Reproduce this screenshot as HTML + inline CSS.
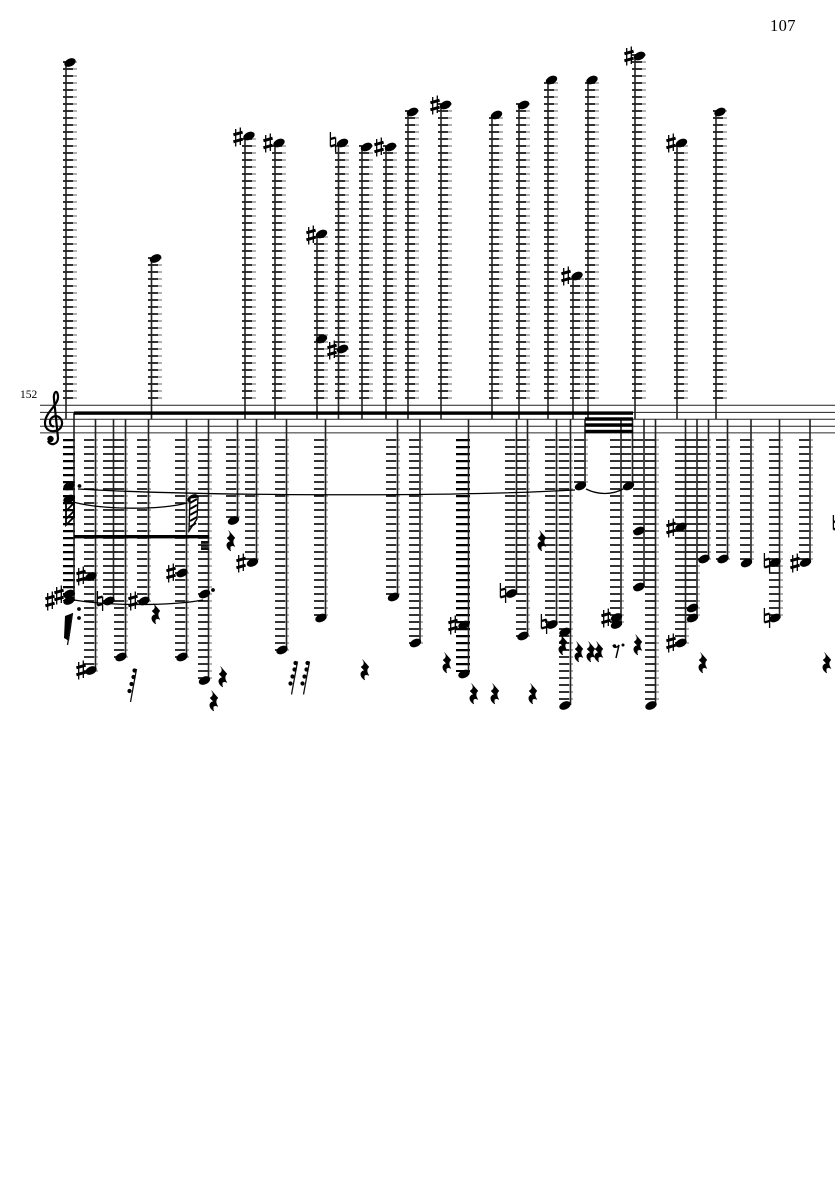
<!DOCTYPE html>
<html><head><meta charset="utf-8"><title>Score page 107</title>
<style>
html,body{margin:0;padding:0;background:#fff}
svg{display:block}
text{font-family:"Liberation Serif",serif;fill:#000}
</style></head><body>
<svg width="835" height="1181" viewBox="0 0 835 1181" xmlns="http://www.w3.org/2000/svg">
<defs>
<g id="L" fill="none" stroke-dasharray="1.6 5.4">
<path d="M70 61.2V399"/><path d="M155 257.2V399"/><path d="M249 138.2V399"/><path d="M279 145.2V399"/>
<path d="M321 236.2V399"/><path d="M342 145.2V399"/><path d="M366 145.2V399"/><path d="M390 145.2V399"/>
<path d="M412 110.2V399"/><path d="M445 103.2V399"/><path d="M496 117.2V399"/><path d="M523 103.2V399"/>
<path d="M551 82.2V399"/><path d="M577 278.2V399"/><path d="M592 82.2V399"/><path d="M639 54.2V399"/>
<path d="M681 145.2V399"/><path d="M720 110.2V399"/>
<path d="M91 439.2V672"/><path d="M110 439.2V602"/><path d="M121 439.2V658"/><path d="M144 439.2V602"/>
<path d="M182 439.2V658"/><path d="M205 439.2V679"/><path d="M233 439.2V518"/><path d="M252 439.2V560"/>
<path d="M282 439.2V651"/><path d="M321 439.2V616"/><path d="M393 439.2V595"/><path d="M416 439.2V644"/>
<path d="M512 439.2V595"/><path d="M523 439.2V637"/><path d="M552 439.2V623"/><path d="M566 439.2V705"/>
<path d="M581 439.2V483"/><path d="M617 439.2V623"/><path d="M628 439.2V483"/><path d="M640 439.2V588"/>
<path d="M652 439.2V705"/><path d="M682 439.2V644"/><path d="M693 439.2V616"/><path d="M704 439.2V560"/>
<path d="M723 439.2V560"/><path d="M747 439.2V560"/><path d="M776 439.2V616"/><path d="M806 439.2V560"/>
</g>
<ellipse id="h" rx="6" ry="3.9" transform="rotate(-25)"/>
<g id="sh"><path d="M-2.3 -8V9.5M2.3 -9.5V8" stroke="#000" stroke-width="1.3" fill="none"/><path d="M-4.6 -2.2L4.6 -4.8M-4.6 4.8L4.6 2.2" stroke="#000" stroke-width="2.9" fill="none"/></g>
<g id="na"><path d="M-2.6 -10V4.5M2.6 -4.5V10" stroke="#000" stroke-width="1.3" fill="none"/><path d="M-2.6 -3L2.6 -4.4M-2.6 4.4L2.6 3" stroke="#000" stroke-width="2.4" fill="none"/></g>
<path id="r" d="M-2.5 -10.500L4 -3C1.500 -1 1.500 2 4 5.500C1 4 -2 4.600 -0.300 10C-5.500 7 -5.500 1 -0.500 0.500L-4 -3C-1 -5 0 -7 -2.500 -10.500Z" fill="#000" stroke="#000" stroke-width="0.500"/>
<g id="sl"><path d="M6 0L0 33" stroke="#111" stroke-width="1.300" fill="none"/><circle cx="4" cy="1.500" r="2.100"/><circle cx="3" cy="8" r="2.100"/><circle cx="1" cy="15" r="2.100"/><circle cx="-1" cy="22" r="2.100"/></g>
</defs>

<text x="770" y="31" font-size="16.500" letter-spacing="0.400">107</text>
<text x="20" y="398" font-size="11.500">152</text>

<use href="#L" stroke="#999" stroke-width="14"/>
<use href="#L" x="-2" stroke="#000" stroke-width="10"/>
<path d="M69 439V601" stroke="#000" stroke-width="12" stroke-dasharray="2.200 4.800" fill="none"/>
<path d="M463 439V672" stroke="#000" stroke-width="14" stroke-dasharray="2.200 4.800" fill="none"/>

<g stroke="#222" stroke-width="1" fill="none">
<path d="M40 405.300H835M40 412.400H835M40 419.300H835M40 426.200H835"/>
<path d="M40 432.800H835" stroke="#666" stroke-width="1.400"/>
</g>

<path d="M48 441C50 446 58 445 58 438L54 399C53 393 57 388 58 396C59 405 45 412 45 423C45 430 51 432 55 431C62 430 64 422 60 418C56 414 50 417 50 422C50 425 52 427 54 426" fill="none" stroke="#000" stroke-width="2.200"/>
<circle cx="50.500" cy="439" r="3.200"/>

<g stroke="#222" stroke-width="1.600" fill="none">
<path d="M66 62V419M151.500 258V419M245 136V419M275 143V419M317 234V419M338.500 143V419M362 147V419M386 147V419M408 112V419M441 105V419M492 115V419M519 105V419M548 80V419M573 276V419M588 80V419M635 56V419M677 143V419M716 112V419"/>
<path d="M74 413V600M95.500 419V670M113.500 419V601M125.500 419V657M148.500 419V601M186.500 419V657M208.500 419V680M237.500 419V520M256.500 419V562M286.500 419V650M325.500 419V618M397.500 419V597M420 419V643M468.500 419V674M516.500 419V594M527.500 419V636M556.500 419V625M570.500 419V705M585 419V486M621 419V625M632.500 419V486M644 419V587M655.500 419V706M685.500 419V643M697 419V618M708.500 419V559M727.500 419V559M751 419V563M779.500 419V618M810 419V563"/>
</g>

<rect x="74" y="411.400" width="512" height="3.400"/>
<rect x="74" y="535" width="135" height="3.400"/>
<rect x="585" y="411.400" width="48" height="3.400"/>
<rect x="585" y="417.300" width="48" height="3.400"/>
<rect x="585" y="423.300" width="48" height="3.400"/>
<rect x="585" y="429.800" width="48" height="3.400"/>

<g fill="none" stroke="#000" stroke-width="1.300">
<path d="M78 489C200 496 450 497 575 490"/>
<path d="M75 502.500C105 510 160 510 187 503"/>
<path d="M586 489C598 495 612 495 623 489"/>
<path d="M74 600C110 606 170 606 203 600"/>
</g>

<use href="#h" x="70" y="62.500"/><use href="#h" x="155.500" y="258.500"/><use href="#h" x="249" y="136"/><use href="#h" x="279" y="143"/>
<use href="#h" x="321.500" y="234"/><use href="#h" x="321.500" y="339"/><use href="#h" x="342.500" y="143"/><use href="#h" x="342.500" y="349"/>
<use href="#h" x="366.500" y="147"/><use href="#h" x="390.500" y="147"/><use href="#h" x="412.500" y="112"/><use href="#h" x="445.500" y="105"/>
<use href="#h" x="496.500" y="115"/><use href="#h" x="523.500" y="105"/><use href="#h" x="551.500" y="80"/><use href="#h" x="577" y="276"/>
<use href="#h" x="592" y="80"/><use href="#h" x="639.500" y="56"/><use href="#h" x="681.500" y="143"/><use href="#h" x="720" y="112"/>
<use href="#h" x="69" y="486"/><use href="#h" x="69" y="499"/><use href="#h" x="69" y="594"/><use href="#h" x="69" y="600.500"/>
<use href="#h" x="91" y="576.500"/><use href="#h" x="91" y="670.500"/><use href="#h" x="109" y="601"/><use href="#h" x="121" y="657"/>
<use href="#h" x="144" y="601"/><use href="#h" x="182" y="573"/><use href="#h" x="182" y="657"/><use href="#h" x="193" y="498.500"/>
<use href="#h" x="204.500" y="594"/><use href="#h" x="204.500" y="680.500"/><use href="#h" x="233.500" y="520.500"/><use href="#h" x="252.500" y="562.500"/>
<use href="#h" x="282" y="650"/><use href="#h" x="321" y="618"/><use href="#h" x="393.500" y="597"/><use href="#h" x="415.500" y="643"/>
<use href="#h" x="464" y="625"/><use href="#h" x="464" y="674"/><use href="#h" x="511.500" y="593.500"/><use href="#h" x="523" y="636"/>
<use href="#h" x="552" y="624.500"/><use href="#h" x="565" y="632"/><use href="#h" x="565" y="705.500"/><use href="#h" x="580.500" y="486"/>
<use href="#h" x="616.500" y="617.500"/><use href="#h" x="616.500" y="624.500"/><use href="#h" x="628.500" y="486"/><use href="#h" x="639" y="531"/>
<use href="#h" x="639" y="587"/><use href="#h" x="651" y="705.500"/><use href="#h" x="681" y="527"/><use href="#h" x="681" y="643"/>
<use href="#h" x="692.500" y="608"/><use href="#h" x="692.500" y="618"/><use href="#h" x="704" y="559"/><use href="#h" x="723" y="559"/>
<use href="#h" x="746.500" y="563"/><use href="#h" x="775" y="562.500"/><use href="#h" x="775" y="618"/><use href="#h" x="805.500" y="562.500"/>

<circle cx="79.500" cy="486" r="1.900"/><circle cx="213" cy="590" r="1.900"/><circle cx="79" cy="609" r="1.900"/><circle cx="79" cy="618" r="1.900"/><circle cx="623" cy="645" r="1.500"/>

<path d="M66 497V525L74 517V497ZM66 511L74 503M66 519L74 511" fill="none" stroke="#000" stroke-width="1.800"/>
<path d="M190 498L198 497L197 519L189 531Z" fill="#fff" stroke="#000" stroke-width="1.300"/>
<path d="M190 503L197 499M190 509L197 505M190 515L197 511M190 521L197 517M190 527L196 523" stroke="#000" stroke-width="2" fill="none"/>
<rect x="201" y="541" width="8" height="9" fill="#111"/>
<path d="M201 544H209M201 547H209" stroke="#777" stroke-width="0.800"/>

<path d="M65 616L73 613L71 628L69 641L64 638Z" fill="#000"/>
<path d="M72.500 613L67.500 645" stroke="#111" stroke-width="1.300" fill="none"/>

<use href="#sh" x="238" y="137"/><use href="#sh" x="268" y="143"/><use href="#sh" x="311" y="235"/><use href="#sh" x="332" y="350"/>
<use href="#sh" x="379" y="147"/><use href="#sh" x="435" y="105"/><use href="#sh" x="566" y="276"/><use href="#sh" x="629" y="56"/><use href="#sh" x="671" y="143"/>
<use href="#sh" x="81" y="576"/><use href="#sh" x="81" y="670"/><use href="#sh" x="133" y="601"/><use href="#sh" x="171" y="573"/>
<use href="#sh" x="50" y="601"/><use href="#sh" x="59" y="595"/><use href="#sh" x="241" y="563"/><use href="#sh" x="453" y="625"/>
<use href="#sh" x="606" y="618"/><use href="#sh" x="671" y="528"/><use href="#sh" x="671" y="643"/><use href="#sh" x="795" y="563"/>

<use href="#na" x="333" y="142"/><use href="#na" x="100" y="601"/><use href="#na" x="503" y="593"/><use href="#na" x="544" y="624"/>
<use href="#na" x="767" y="563"/><use href="#na" x="767" y="618"/><use href="#na" x="836" y="525"/>

<use href="#r" x="231" y="541"/><use href="#r" x="156" y="614"/><use href="#r" x="223" y="677"/><use href="#r" x="214" y="701"/>
<use href="#r" x="365" y="670"/><use href="#r" x="447" y="663"/><use href="#r" x="474" y="694"/><use href="#r" x="495" y="694"/>
<use href="#r" x="533" y="694"/><use href="#r" x="542" y="541"/><use href="#r" x="563" y="645"/><use href="#r" x="579" y="652"/>
<use href="#r" x="591" y="652"/><use href="#r" x="599" y="652"/><use href="#r" x="638" y="645"/><use href="#r" x="703" y="663"/><use href="#r" x="827" y="663"/>

<path d="M613 645C614 648 617 648 619 645L616 658" fill="none" stroke="#000" stroke-width="1.500"/><circle cx="614.500" cy="646" r="1.700"/>

<use href="#sl" x="130.500" y="669"/><use href="#sl" x="291.500" y="661.500"/><use href="#sl" x="303.500" y="661.500"/>
</svg>
</body></html>
